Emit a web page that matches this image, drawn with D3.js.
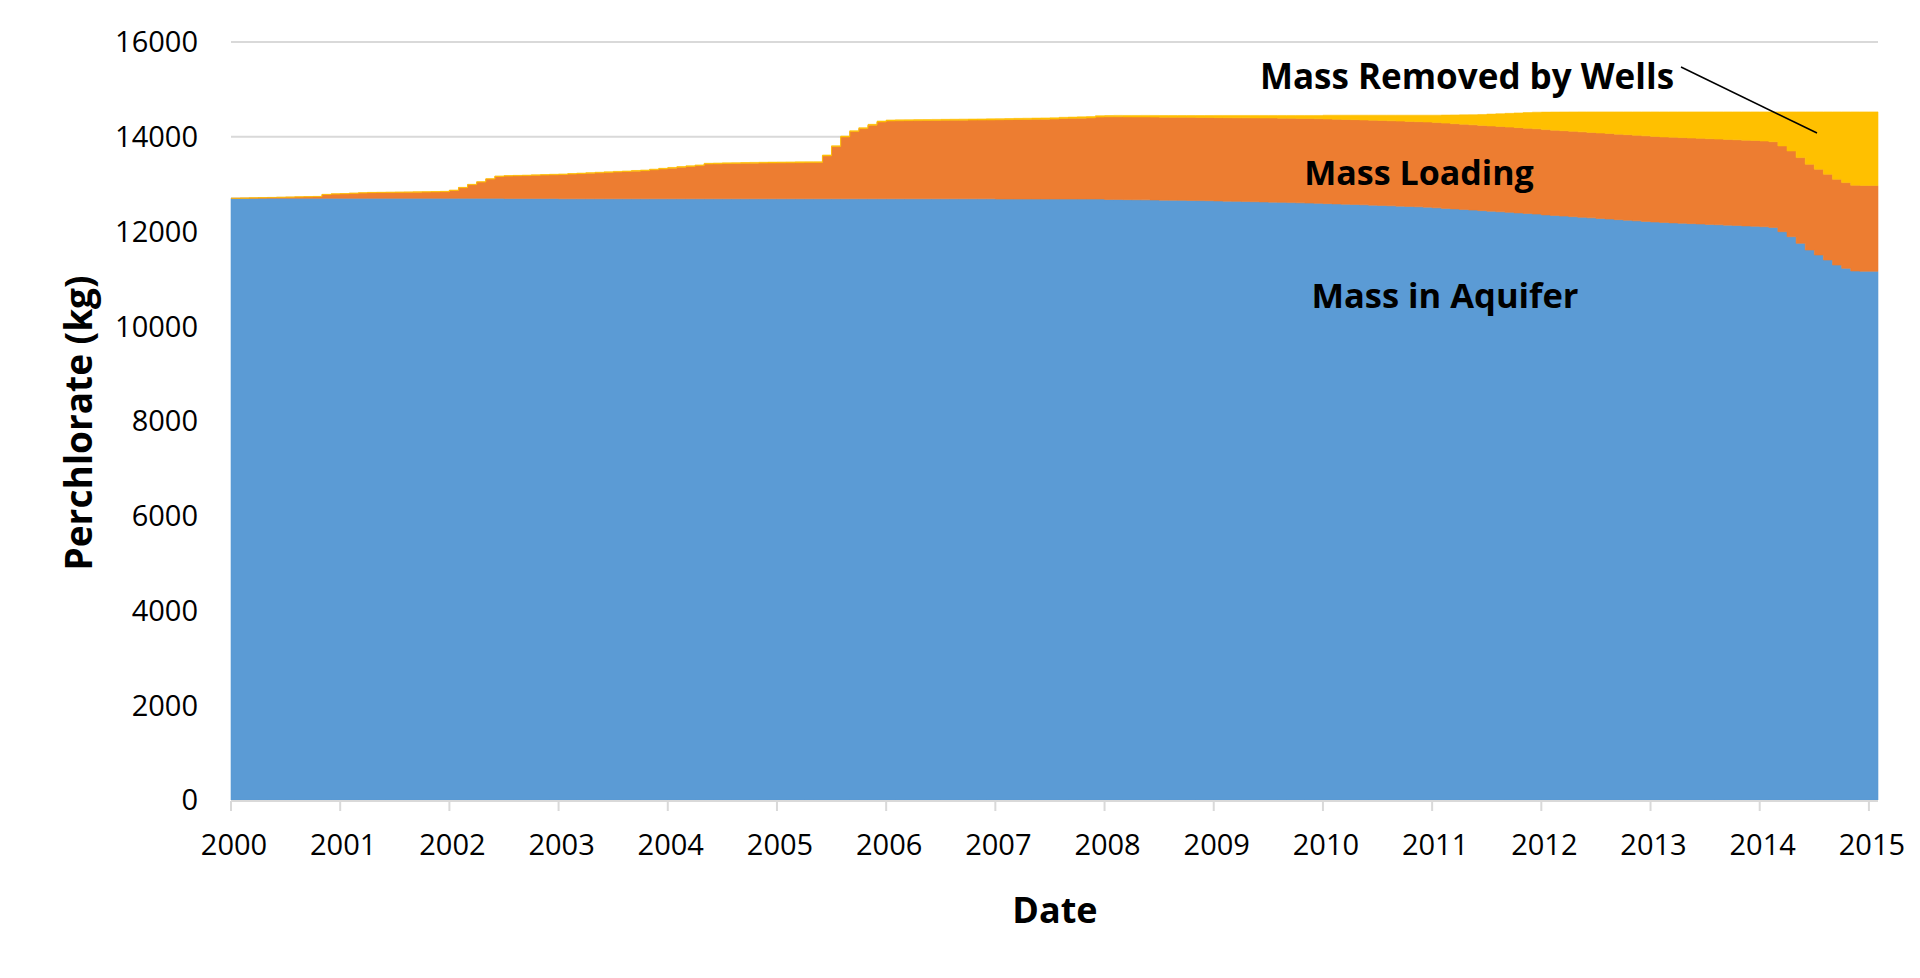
<!DOCTYPE html>
<html>
<head>
<meta charset="utf-8">
<script src="https://cdn.jsdelivr.net/npm/d3@7/dist/d3.min.js"></script>
<style>
  html, body { margin: 0; padding: 0; background: #fff; }
  svg { display: block; }
  text { font-family: "Open Sans", "DejaVu Sans", sans-serif; fill: #000; }
</style>
</head>
<body>
<svg id="chart" width="1920" height="978"></svg>
<script>
// ---- Data (monthly, Jan 2000 .. Jan 2015) ----
const yearLabels = ["2000","2001","2002","2003","2004","2005","2006","2007","2008","2009","2010","2011","2012","2013","2014","2015"];
const yTicks = [0, 2000, 4000, 6000, 8000, 10000, 12000, 14000, 16000];
const seriesNames = ["Mass in Aquifer", "Mass Loading", "Mass Removed by Wells"];

const massInAquifer = [
  12700,12700,12700,12700,12700,12700,12700,12700,12700,12700,12700,12700,
  12700,12700,12700,12700,12700,12700,12700,12700,12700,12700,12700,12700,
  12700,12700,12700,12700,12700,12700,12695,12695,12695,12695,12695,12695,
  12690,12690,12690,12690,12690,12690,12690,12690,12690,12690,12690,12690,
  12690,12690,12690,12690,12690,12690,12690,12690,12690,12690,12690,12690,
  12690,12690,12690,12690,12690,12690,12690,12690,12690,12690,12690,12690,
  12690,12690,12690,12690,12690,12690,12690,12690,12690,12690,12690,12690,
  12685,12685,12685,12685,12685,12685,12685,12685,12685,12685,12685,12685,
  12675,12675,12672,12670,12668,12665,12662,12660,12658,12655,12652,12650,
  12645,12640,12636,12632,12628,12624,12620,12615,12610,12605,12600,12594,
  12588,12582,12576,12570,12563,12556,12549,12542,12535,12528,12521,12514,
  12500,12488,12476,12464,12452,12440,12428,12416,12404,12392,12380,12368,
  12350,12338,12325,12313,12300,12288,12275,12263,12250,12238,12225,12213,
  12200,12190,12182,12174,12166,12158,12150,12142,12134,12126,12118,12110,
  12100,12085,11996,11890,11750,11609,11504,11398,11292,11222,11166,11160,
  11160
];
const massLoading = [
  0,4,8,12,16,20,24,28,32,36,80,90,
  95,105,113,120,122,124,126,128,130,133,136,140,
  166,223,287,343,406,462,475,480,485,490,496,502,
  513,522,531,540,548,557,566,575,584,594,612,630,
  647,665,683,701,735,739,744,747,750,752,755,758,
  760,761,763,764,765,906,1102,1306,1419,1482,1552,1622,
  1644,1646,1649,1651,1652,1654,1656,1658,1659,1661,1663,1664,
  1673,1676,1678,1681,1684,1686,1689,1699,1703,1708,1713,1731,
  1745,1746,1747,1748,1749,1750,1751,1752,1753,1754,1755,1756,
  1758,1761,1764,1767,1770,1773,1776,1778,1780,1782,1784,1786,
  1787,1788,1789,1790,1791,1792,1793,1794,1795,1796,1797,1798,
  1799,1800,1800,1800,1800,1800,1800,1800,1800,1800,1800,1800,
  1801,1801,1802,1802,1803,1803,1804,1804,1805,1805,1805,1806,
  1806,1806,1807,1807,1807,1808,1808,1808,1809,1809,1809,1810,
  1810,1810,1810,1810,1810,1810,1810,1810,1810,1810,1810,1810,
  1810
];
const massRemoved = [
  3,3,3,4,4,4,4,5,5,5,5,5,
  6,6,6,6,7,7,7,7,8,8,8,8,
  9,9,9,9,10,10,10,10,10,11,11,11,
  12,12,12,12,13,13,13,13,14,14,14,14,
  15,15,15,15,15,16,16,16,16,17,17,17,
  17,18,18,18,18,19,19,19,19,20,20,20,
  20,21,21,21,22,22,22,22,23,23,23,24,
  24,24,25,25,25,26,26,26,27,27,27,28,
  28,30,31,32,34,35,36,37,38,40,41,43,
  47,49,50,51,52,53,54,57,60,63,66,70,
  80,85,90,95,101,107,113,119,125,131,137,143,
  156,170,184,198,213,230,250,270,290,310,330,350,
  369,383,396,409,422,434,446,458,470,482,495,506,
  519,529,536,544,552,559,567,575,582,590,598,605,
  615,630,719,825,965,1106,1211,1317,1423,1493,1549,1555,
  1555
];

const colors = ["#5B9BD5", "#ED7D31", "#FFC000"];

// ---- Layout ----
const svg = d3.select("#chart");
const plot = { left: 231, right: 1878, top: 42, bottom: 800 };
const n = massInAquifer.length; // 181 months

const x = d3.scaleLinear().domain([0, n]).range([plot.left, plot.right]);
const y = d3.scaleLinear().domain([0, 16000]).range([plot.bottom, plot.top]);

const rows = massInAquifer.map((v, i) => ({
  i, a: v, l: massLoading[i], r: massRemoved[i]
}));
const stack = d3.stack().keys(["a", "l", "r"]);
const layers = stack(rows);

// gridlines
svg.append("g")
  .selectAll("line")
  .data(yTicks.filter(t => t > 0))
  .join("line")
  .attr("x1", plot.left).attr("x2", plot.right)
  .attr("y1", d => y(d)).attr("y2", d => y(d))
  .attr("stroke", "#d9d9d9").attr("stroke-width", 2);

// areas (stepped, monthly)
const area = d3.area()
  .curve(d3.curveStepAfter)
  .x(d => x(d.x))
  .y0(d => y(d.y0))
  .y1(d => y(d.y1));

layers.forEach((layer, k) => {
  const pts = layer.map((d, i) => ({ x: i, y0: d[0], y1: d[1] }));
  const last = pts[pts.length - 1];
  pts.push({ x: n, y0: last.y0, y1: last.y1 });
  svg.append("path")
    .attr("d", area(pts))
    .attr("fill", colors[k])
    .attr("stroke", colors[k])
    .attr("stroke-width", 0.6);
});

// x axis baseline and ticks
svg.append("line")
  .attr("x1", plot.left).attr("x2", plot.right)
  .attr("y1", plot.bottom + 1).attr("y2", plot.bottom + 1)
  .attr("stroke", "#d9d9d9").attr("stroke-width", 2);

const xTickIdx = yearLabels.map((_, k) => k * 12);
svg.append("g")
  .selectAll("line")
  .data(xTickIdx)
  .join("line")
  .attr("x1", d => x(d)).attr("x2", d => x(d))
  .attr("y1", plot.bottom + 1).attr("y2", plot.bottom + 11)
  .attr("stroke", "#d9d9d9").attr("stroke-width", 2);

svg.append("g")
  .selectAll("text")
  .data(yearLabels)
  .join("text")
  .attr("x", (d, k) => x(k * 12) + 3)
  .attr("y", 855)
  .attr("text-anchor", "middle")
  .attr("font-size", 29)
  .text(d => d);

// y tick labels
svg.append("g")
  .selectAll("text")
  .data(yTicks)
  .join("text")
  .attr("x", 198)
  .attr("y", d => y(d))
  .attr("dy", "0.36em")
  .attr("text-anchor", "end")
  .attr("font-size", 29)
  .text(d => d);

// axis titles
svg.append("text")
  .attr("transform", "translate(92,423) rotate(-90)")
  .attr("text-anchor", "middle")
  .attr("font-size", 37)
  .attr("font-weight", "bold")
  .text("Perchlorate (kg)");

svg.append("text")
  .attr("x", 1055).attr("y", 923)
  .attr("text-anchor", "middle")
  .attr("font-size", 36)
  .attr("font-weight", "bold")
  .text("Date");

// series labels
svg.append("text")
  .attr("x", 1467).attr("y", 89)
  .attr("text-anchor", "middle")
  .attr("font-size", 35)
  .attr("font-weight", "bold")
  .text(seriesNames[2]);

svg.append("text")
  .attr("x", 1419).attr("y", 185)
  .attr("text-anchor", "middle")
  .attr("font-size", 34)
  .attr("font-weight", "bold")
  .text(seriesNames[1]);

svg.append("text")
  .attr("x", 1445).attr("y", 308)
  .attr("text-anchor", "middle")
  .attr("font-size", 34.5)
  .attr("font-weight", "bold")
  .text(seriesNames[0]);

// leader line for "Mass Removed by Wells"
svg.append("line")
  .attr("x1", 1681).attr("y1", 67)
  .attr("x2", 1817).attr("y2", 133)
  .attr("stroke", "#000").attr("stroke-width", 1.5);
</script>
</body>
</html>
